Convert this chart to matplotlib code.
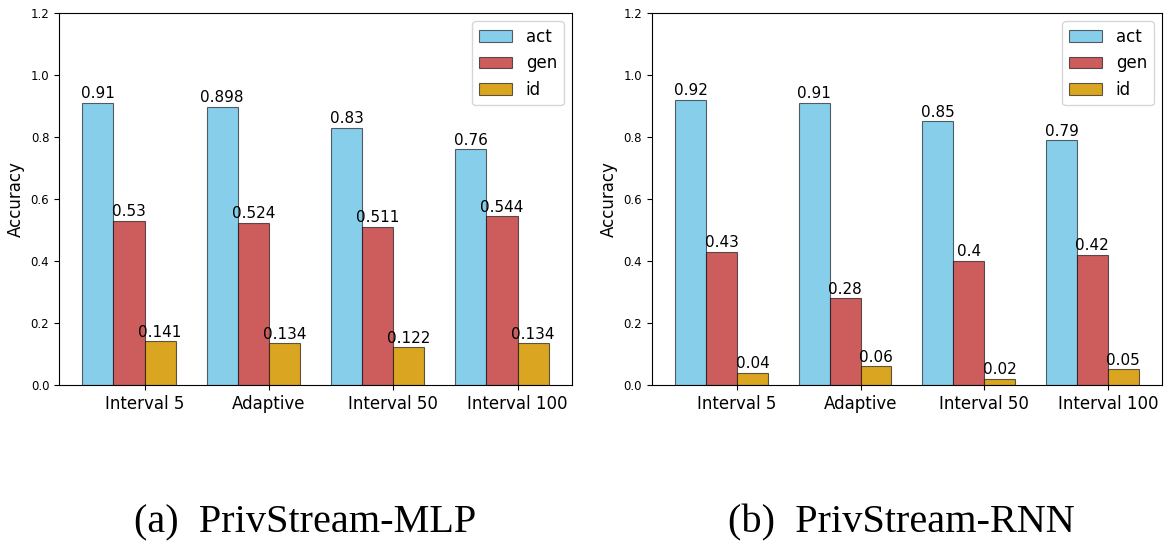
import numpy as np
import matplotlib.pyplot as plt

categories = ["Interval 5", "Adaptive", "Interval 50", "Interval 100"]
series = ["act", "gen", "id"]

mlp_act = [0.91, 0.898, 0.83, 0.76]
mlp_gen = [0.53, 0.524, 0.511, 0.544]
mlp_id = [0.141, 0.134, 0.122, 0.134]

rnn_act = [0.92, 0.91, 0.85, 0.79]
rnn_gen = [0.43, 0.28, 0.40, 0.42]
rnn_id = [0.04, 0.06, 0.02, 0.05]

colors = ["skyblue", "indianred", "goldenrod"]


def draw_panel(ax, vals):
    x = np.arange(len(categories))
    w = 0.25
    for i, (name, v) in enumerate(zip(series, vals)):
        bars = ax.bar(x + i * w, v, w, label=name, color=colors[i],
                      edgecolor=(0, 0, 0, 0.6), linewidth=0.8)
        for b, val in zip(bars, v):
            ax.text(b.get_x() + b.get_width() / 2, b.get_height() + 0.005,
                    f"{val:g}", ha="center", va="bottom", fontsize=11)
    ax.set_xticks(x + 1.5 * w)
    ax.set_xticklabels(categories, fontsize=12)
    ax.set_ylim(0, 1.2)
    ax.tick_params(axis="y", labelsize=8.5)
    ax.set_ylabel("Accuracy", fontsize=12)
    ax.legend(loc="upper right", fontsize=12)


fig = plt.figure(figsize=(11.64, 5.41), dpi=100)
ax1 = fig.add_axes([0.0507, 0.2884, 0.4407, 0.6876])
ax2 = fig.add_axes([0.5601, 0.2884, 0.4381, 0.6876])

draw_panel(ax1, [mlp_act, mlp_gen, mlp_id])
draw_panel(ax2, [rnn_act, rnn_gen, rnn_id])

fig.text(0.262, 0.0166, "(a)  PrivStream-MLP", ha="center", va="baseline",
         fontsize=29, family="Liberation Serif")
fig.text(0.774, 0.0166, "(b)  PrivStream-RNN", ha="center", va="baseline",
         fontsize=29, family="Liberation Serif")

fig.savefig("out.png", dpi=100)
